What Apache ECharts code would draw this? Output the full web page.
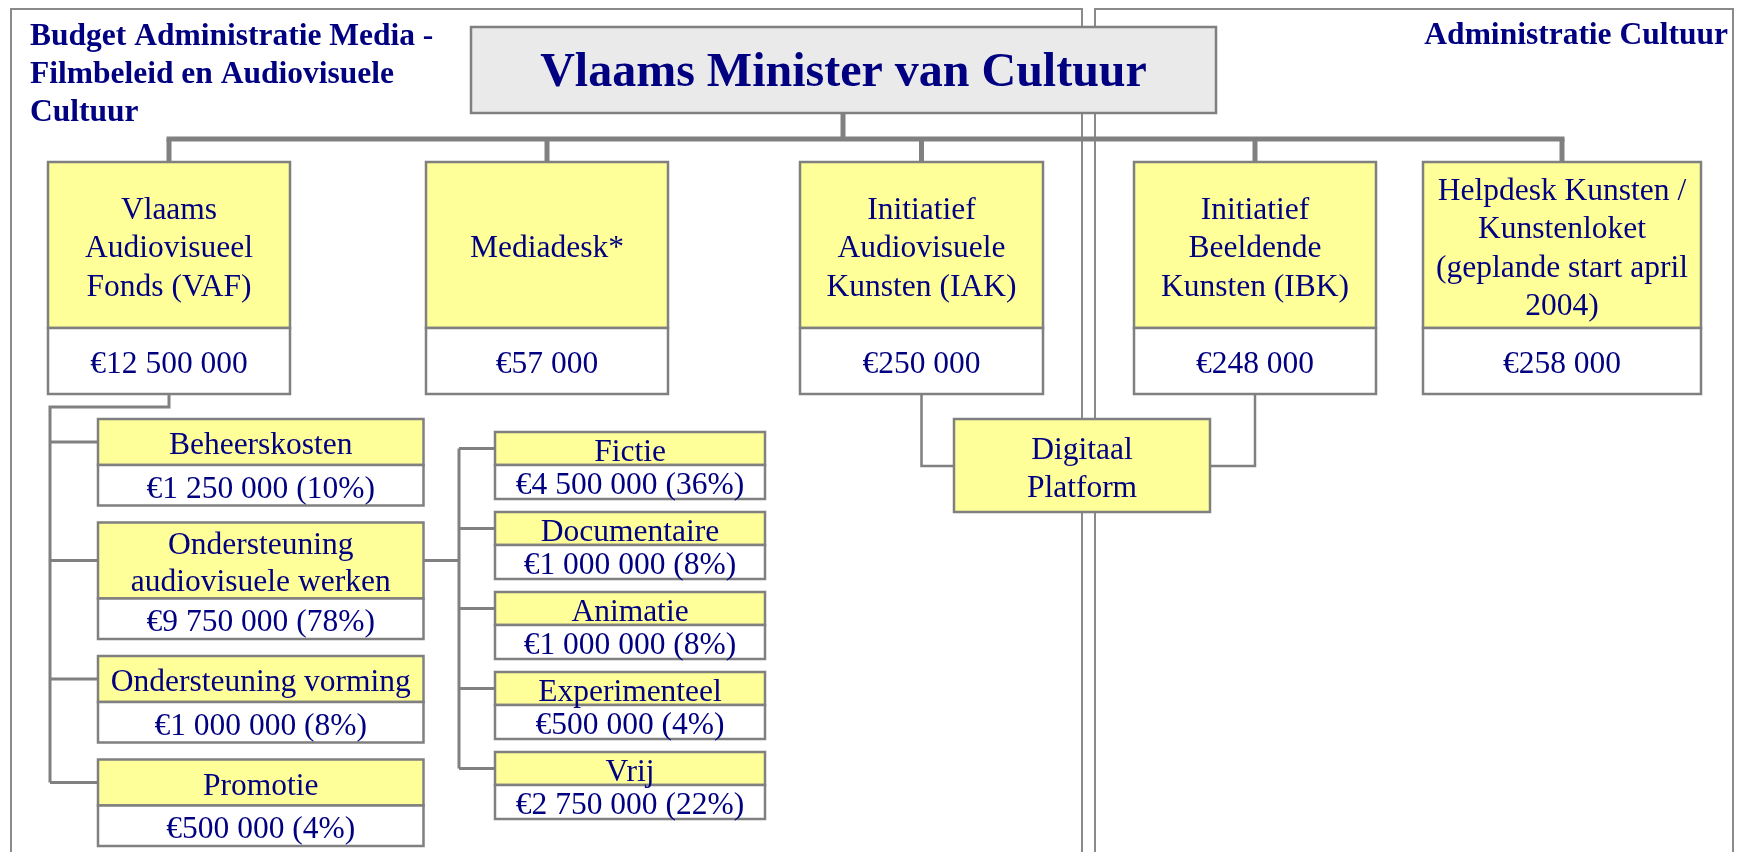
<!DOCTYPE html>
<html>
<head>
<meta charset="utf-8">
<title>Budget Vlaams Minister van Cultuur</title>
<script src="https://cdn.jsdelivr.net/npm/echarts@6/dist/echarts.min.js"></script>
<style>
  html, body { margin: 0; padding: 0; background: #fff; }
  #chart { width: 1743px; height: 852px; }
</style>
</head>
<body>
<div id="chart"></div>
<script>
// ---- data ----
const headerLeft = 'Budget Administratie Media -\nFilmbeleid en Audiovisuele\nCultuur';
const headerRight = 'Administratie Cultuur';
const rootName = 'Vlaams Minister van Cultuur';

const topUnits = [
  'Vlaams\nAudiovisueel\nFonds (VAF)',
  'Mediadesk*',
  'Initiatief\nAudiovisuele\nKunsten (IAK)',
  'Initiatief\nBeeldende\nKunsten (IBK)',
  'Helpdesk Kunsten /\nKunstenloket\n(geplande start april\n2004)'
];
const topBudgets = [12500000, 57000, 250000, 248000, 258000];

const vafItems = ['Beheerskosten', 'Ondersteuning\naudiovisuele werken', 'Ondersteuning vorming', 'Promotie'];
const vafBudgets = [1250000, 9750000, 1000000, 500000];
const vafShares = [10, 78, 8, 4];

const genreItems = ['Fictie', 'Documentaire', 'Animatie', 'Experimenteel', 'Vrij'];
const genreBudgets = [4500000, 1000000, 1000000, 500000, 2750000];
const genreShares = [36, 8, 8, 4, 22];

const sharedName = 'Digitaal\nPlatform';

// ---- layout (in axis units = px of the 1743x852 canvas) ----
const topX = [48, 426, 800, 1134, 1423];
const topW = [242, 242, 243, 242, 278];
const topY = 162, topSplit = 328, topBottom = 394;
const busY = 139;
const leftCol = { x: 98, w: 325.5, top: 419, h1: 46, h2: 76, hv: 40.5, gap: 17, spine: 50 };
const rightCol = { x: 495, w: 270, top: 432, hy: 33, hv: 34, pitch: 80, spine: 459 };

const NAVY = '#000080';
const GREY = '#808080';
const YELLOW = '#ffff99';
const FONT = '"Liberation Serif", "Times New Roman", serif';
const TEXT_SHIFT = 4; // serif glyphs sit a bit low in the reference

function euro(v) {
  return '€' + String(v).replace(/\B(?=(\d{3})+(?!\d))/g, ' ');
}

// build the list of things to draw
const items = [];

// panels
items.push({ kind: 'line', z: 1, w: 2, color: '#8a8a8a', pts: [[11, 852], [11, 9], [1082, 9], [1082, 852]] });
items.push({ kind: 'line', z: 1, w: 2, color: '#8a8a8a', pts: [[1095, 852], [1095, 9], [1733, 9], [1733, 852]] });

// root box
items.push({ kind: 'box', x: 471, y: 27, w: 745, h: 86, fill: '#eaeaea', text: rootName, font: 'bold 48px ' + FONT });

// root stem + bus + drops
const centers = topX.map((x, i) => x + topW[i] / 2);
items.push({ kind: 'line', z: 2, w: 5, color: GREY, pts: [[843, 113], [843, busY]] });
items.push({ kind: 'line', z: 2, w: 5, color: GREY, pts: [[centers[0] - 2.5, busY], [centers[centers.length - 1] + 2.5, busY]] });
centers.forEach(cx => items.push({ kind: 'line', z: 2, w: 5, color: GREY, pts: [[cx, busY], [cx, topY]] }));

// top row boxes
topUnits.forEach((name, i) => {
  items.push({ kind: 'box', x: topX[i], y: topY, w: topW[i], h: topSplit - topY, fill: YELLOW, text: name, lh: 38.5 });
  items.push({ kind: 'box', x: topX[i], y: topSplit, w: topW[i], h: topBottom - topSplit, fill: '#fff', text: euro(topBudgets[i]) });
});

// VAF breakdown
let y = leftCol.top;
const leftMid = [];
vafItems.forEach((name, i) => {
  const hy = name.indexOf('\n') >= 0 ? leftCol.h2 : leftCol.h1;
  items.push({ kind: 'box', x: leftCol.x, y: y, w: leftCol.w, h: hy, fill: YELLOW, text: name, lh: 37 });
  items.push({ kind: 'box', x: leftCol.x, y: y + hy, w: leftCol.w, h: leftCol.hv, fill: '#fff',
    text: euro(vafBudgets[i]) + ' (' + vafShares[i] + '%)' });
  leftMid.push(y + hy / 2);
  y += hy + leftCol.hv + leftCol.gap;
});
items.push({ kind: 'line', z: 2, w: 3, color: GREY,
  pts: [[centers[0], topBottom], [centers[0], 407], [leftCol.spine, 407], [leftCol.spine, leftMid[leftMid.length - 1]]] });
leftMid.forEach(m => items.push({ kind: 'line', z: 2, w: 3, color: GREY, pts: [[leftCol.spine, m], [leftCol.x, m]] }));

// genre breakdown under "Ondersteuning audiovisuele werken"
const rightMid = [];
genreItems.forEach((name, i) => {
  const ty = rightCol.top + i * rightCol.pitch;
  items.push({ kind: 'box', x: rightCol.x, y: ty, w: rightCol.w, h: rightCol.hy, fill: YELLOW, text: name });
  items.push({ kind: 'box', x: rightCol.x, y: ty + rightCol.hy, w: rightCol.w, h: rightCol.hv, fill: '#fff',
    text: euro(genreBudgets[i]) + ' (' + genreShares[i] + '%)' });
  rightMid.push(ty + rightCol.hy / 2);
});
items.push({ kind: 'line', z: 2, w: 3, color: GREY, pts: [[leftCol.x + leftCol.w, leftMid[1]], [rightCol.spine, leftMid[1]]] });
items.push({ kind: 'line', z: 2, w: 3, color: GREY, pts: [[rightCol.spine, rightMid[0]], [rightCol.spine, rightMid[rightMid.length - 1]]] });
rightMid.forEach(m => items.push({ kind: 'line', z: 2, w: 3, color: GREY, pts: [[rightCol.spine, m], [rightCol.x, m]] }));

// shared platform between IAK and IBK
items.push({ kind: 'line', z: 2, w: 2.5, color: GREY, pts: [[centers[2], topBottom], [centers[2], 466], [954, 466]] });
items.push({ kind: 'line', z: 2, w: 2.5, color: GREY, pts: [[centers[3], topBottom], [centers[3], 466], [1210, 466]] });
items.push({ kind: 'box', x: 954, y: 419, w: 256, h: 93, fill: YELLOW, text: sharedName, lh: 38.5 });

// panel headings
items.push({ kind: 'text', x: 30, y: 17.5, text: headerLeft, align: 'left', vAlign: 'top', lh: 38, font: 'bold 31.5px ' + FONT });
items.push({ kind: 'text', x: 1728, y: 16.5, text: headerRight, align: 'right', vAlign: 'top', lh: 38, font: 'bold 31.5px ' + FONT });

function renderItem(params, api) {
  const it = items[params.dataIndex];
  if (it.kind === 'line') {
    return {
      type: 'polyline', z2: it.z,
      shape: { points: it.pts.map(p => api.coord(p)) },
      style: { stroke: it.color, lineWidth: it.w, fill: null }
    };
  }
  if (it.kind === 'text') {
    const p = api.coord([it.x, it.y]);
    return {
      type: 'text', z2: 10,
      style: { text: it.text, x: p[0], y: p[1], fill: NAVY, font: it.font,
        align: it.align, verticalAlign: it.vAlign, lineHeight: it.lh }
    };
  }
  const a = api.coord([it.x, it.y]);
  const b = api.coord([it.x + it.w, it.y + it.h]);
  return {
    type: 'group', children: [
      { type: 'rect', z2: 5,
        shape: { x: a[0], y: a[1], width: b[0] - a[0], height: b[1] - a[1] },
        style: { fill: it.fill, stroke: GREY, lineWidth: 2.5 } },
      { type: 'text', z2: 6,
        style: { text: it.text, x: (a[0] + b[0]) / 2, y: (a[1] + b[1]) / 2 + TEXT_SHIFT, fill: NAVY,
          font: it.font || ('31.5px ' + FONT), align: 'center', verticalAlign: 'middle', lineHeight: it.lh || 36 } }
    ]
  };
}

const chart = echarts.init(document.getElementById('chart'));
chart.setOption({
  backgroundColor: '#fff',
  animation: false,
  grid: { left: 0, right: 0, top: 0, bottom: 0 },
  xAxis: { type: 'value', min: 0, max: 1743, show: false },
  yAxis: { type: 'value', min: 0, max: 852, inverse: true, show: false },
  series: [{
    type: 'custom',
    coordinateSystem: 'cartesian2d',
    renderItem: renderItem,
    data: items.map((it, i) => [i]),
    silent: true
  }]
});
</script>
</body>
</html>
